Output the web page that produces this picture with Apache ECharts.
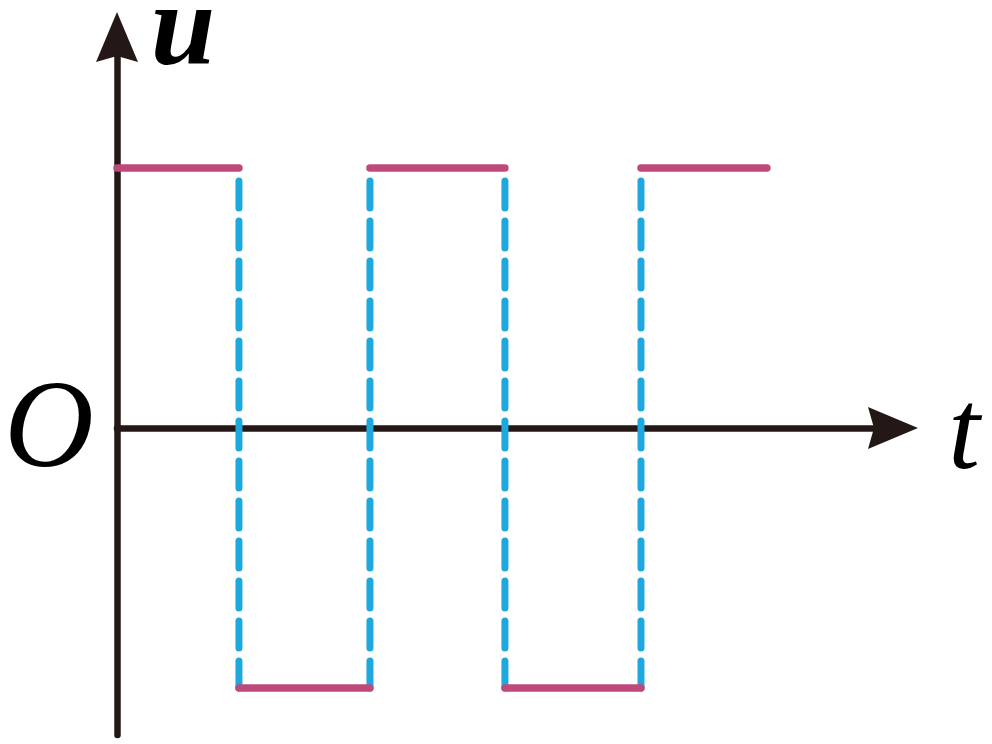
<!DOCTYPE html>
<html><head><meta charset="utf-8">
<script src="https://cdn.jsdelivr.net/npm/echarts@6/dist/echarts.min.js"></script>
<style>html,body{margin:0;padding:0;background:#fff}#c{width:992px;height:744px}</style>
</head><body><div id="c"></div>
<script>
// transition times (arbitrary time units) and levels
const switchTimes = [0.917, 1.902, 2.917, 3.940];
const startTime = 0;
const endTime = 4.887;
const highLevel = 1;
const lowLevel = -1;
const axisNames = { x: 't', y: 'u', origin: 'O' };

// build horizontal segments (magenta) and vertical dashed transitions (blue)
const bounds = [startTime, ...switchTimes, endTime];
const flat = [];
for (let i = 0; i < bounds.length - 1; i++) {
  const lv = i % 2 === 0 ? highLevel : lowLevel;
  flat.push([bounds[i], lv], [bounds[i + 1], lv], null);
}
const vert = [];
switchTimes.forEach(t => { vert.push([t, lowLevel], [t, highLevel], null); });

const arrow = 'path://M0,0 L21,50 L0,44 L-21,50 Z';
const axisColor = '#231815';
const chart = echarts.init(document.getElementById('c'));
chart.setOption({
  animation: false,
  backgroundColor: '#fff',
  grid: { left: 117, right: 99, top: 37, bottom: 9, containLabel: false },
  xAxis: {
    type: 'value', min: 0, max: 5.835,
    axisLine: { onZero: true, lineStyle: { color: axisColor, width: 6.5 }, symbol: ['none', arrow], symbolSize: [42, 50] },
    axisTick: { show: false }, axisLabel: { show: false }, splitLine: { show: false }
  },
  yAxis: {
    type: 'value', min: -1.181, max: 1.504,
    axisLine: { show: true, lineStyle: { color: axisColor, width: 6.5 }, symbol: ['none', arrow], symbolSize: [42, 50] },
    axisTick: { show: false }, axisLabel: { show: false }, splitLine: { show: false }
  },
  series: [
    { type: 'line', data: vert, symbol: 'none', connectNulls: false, z: 3,
      lineStyle: { color: '#1fa8dd', width: 7, type: [27, 13], cap: 'round' } },
    { type: 'line', data: flat, symbol: 'none', connectNulls: false, z: 4,
      lineStyle: { color: '#c0497c', width: 7.5, cap: 'round' } }
  ],
  graphic: [
    { type: 'text', x: 183, y: 34, style: { text: axisNames.y, font: 'italic bold 116px "Liberation Serif"', fill: '#000', align: 'center', verticalAlign: 'middle' } },
    { type: 'text', x: 49, y: 433, style: { text: axisNames.origin, font: 'italic 124px "Liberation Serif"', fill: '#000', align: 'center', verticalAlign: 'middle' } },
    { type: 'text', x: 964, y: 438, style: { text: axisNames.x, font: 'italic 114px "Liberation Serif"', fill: '#000', align: 'center', verticalAlign: 'middle' } }
  ]
});
</script></body></html>
